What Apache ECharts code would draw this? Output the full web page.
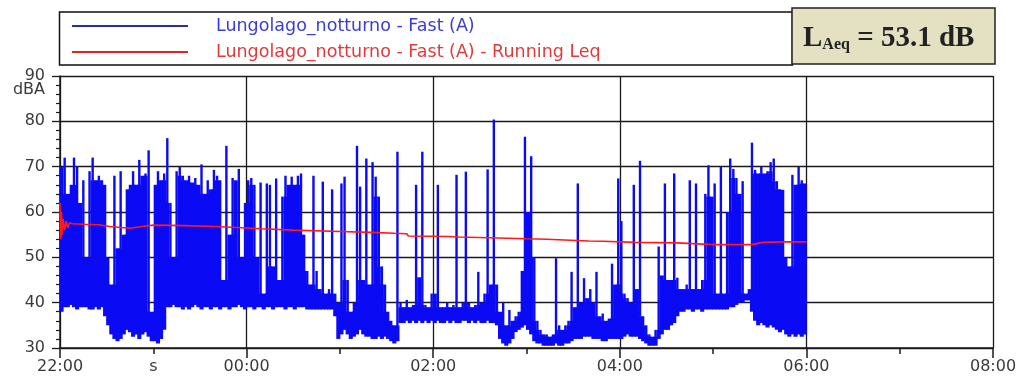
<!DOCTYPE html>
<html><head><meta charset="utf-8">
<script src="https://cdn.jsdelivr.net/npm/echarts@6/dist/echarts.min.js"></script>
<style>html,body{margin:0;padding:0;background:#fff}#c{width:1017px;height:383px}</style>
</head><body><div id="c"></div>
<script>
// time in minutes from 22:00; Fast (A) level summarised per 2-minute bin (min / max)
const binMinutes = 2;
const fastHigh = [
70,72,64,66,72,70,62,67,50,69,
72,67,68,67,66,50,44,68,52,69,
55,65,66,69,66,71.5,68,68.5,73.6,38,
66,69,67,68.5,76.3,62,50,69,70,68,
67,68,66.5,67.5,66,70.5,64,67,65,69.3,
68,67,45,74.6,55,67.5,67,69.5,50,62,
67,67.5,66,50,66.5,42,66.3,66,48,67.4,
45,63.4,68,66,67.8,66,68,68.5,55,47,
44,68,47,43,66.7,42,43,65,42,40,
66.3,67.8,45,38,40,74.6,65.6,45,71.8,44,
71,67.8,63.4,48,44,38,36,35,73.3,40,
39,40.6,39,39.5,66,45.6,73.3,39.5,39,42,
42,66,39,39,40,39,39.5,68.2,39,40,
68.9,40,39,39.5,46.8,40,42,69.4,44,80.4,
44,38,40,35,38.4,36,37,38,47,76.6,
60,72.3,50,36,34,33,33,32.5,33,49.8,
35,34,35,36,46.8,39,66.3,40,45.4,41,
43,40,46.8,37,37.6,36,36.5,48.6,44,67.4,
58,42,41,40,66,43,71.3,37,35,33,
32.5,34,52.4,46,66.3,45,45,68.5,45.5,43,
43,44,67,43,66.3,43,45,64,70.3,63.4,
66.3,42,70,42,60,71.8,69.5,67.5,64,66.8,
42,43,75.3,69.3,68.5,70,68.5,69,71,71.8,
66.8,65,64.9,50,48,68.2,66,70,67,66.3
];
const fastLow = [
38,39,39,39.5,39,38.5,39,39,39,38.5,
38.5,39,38.5,39,37,35,33,32,31.5,32,
33,34,33.5,32.5,33,32,33,33.5,32.5,31.5,
31.5,31,32,34,39,39,39.5,39,39,38.5,
39,38.5,39,39.5,39,38.5,39,39,38.5,39,
39,38.5,39,39,38.5,39,39,39.5,39,38.5,
39,39,38.5,39,39,38.5,39,39,38.5,39,
39,39,38.5,39,39,38.5,39,39,39,38.5,
38.5,38.5,38.5,38.5,38.5,38.5,38.5,38.5,37,32,
33,34,33,32,32.5,33,34,33,32.5,32.5,
32,32,32.5,32,32.5,32,31.5,31,31.5,35.5,
35.5,36,35.5,36,35.5,36,35.5,36,35.5,36,
35.5,36,35.5,35.5,36,35.5,36,35.5,35.5,36,
36,35.5,36,35.5,36,35.5,35.5,36,35.5,35.5,
35,32,31,30.5,31,32,33.5,34,34.5,35,
34,33,31.5,31,31,30.5,30.5,30.5,30.5,31,
30.5,30.5,31,31,31.5,32,32,32,32.5,32.5,
32.5,32,32,32,31.5,31.5,32,32,32,32,
32,32.5,33,32.5,32.5,32.5,32,31.5,31,30.5,
30.5,30.5,32,33,34,34,35,35.5,37,38,
38,38.5,38.5,38,38.5,38.5,38,38.5,38.5,38.5,
38.5,38.5,38.5,38.5,38.5,39,39,39.5,40,40,
40.5,40.5,38,36,35,35.5,35,34.5,35,34.5,
34,33.5,34,33,32.5,33,32.5,33,32.5,33
];
// Running Leq
const leqTime  = [0,0.5,1,1.5,2,3,4,5,6,8,15,25,32,45,55,60,80,100,130,150,180,200,215,223,224,250,257,258,300,313,314,340,349,350,370,397,398,420,445,452,465,480];
const leqValue = [62,54,60,55,58.5,56,58,56.5,57.6,57.4,57.3,57.2,56.8,56.4,56.9,57.1,57.0,56.8,56.3,56.0,55.7,55.5,55.3,55.2,54.7,54.6,54.5,54.2,54.1,54.0,53.7,53.6,53.55,53.3,53.3,53.2,52.9,52.8,52.8,53.3,53.4,53.4];
const xTickLabels = ['22:00','s','00:00','','02:00','','04:00','','06:00','','08:00'];
const seriesNames = ['Lungolago_notturno - Fast (A)', 'Lungolago_notturno - Fast (A) - Running Leq'];
const laeqValue = '53.1';

const fastData = fastHigh.map((h, i) => [i * binMinutes, fastLow[i], h, i]);
const leqData = leqTime.map((t, i) => [t, leqValue[i]]);

const chart = echarts.init(document.getElementById('c'), null, {renderer: 'canvas'});
const FONT = 'DejaVu Sans';
const BLUE = '#0a0af5';
chart.setOption({
  animation: false,
  backgroundColor: '#fff',
  grid: {left: 60, right: 24, top: 76, bottom: 35, outerBoundsMode: 'none'},
  xAxis: [{
    type: 'value', min: 0, max: 600, interval: 60,
    axisLine: {show: true, onZero: false, lineStyle: {color: '#1a1a1a', width: 1.5}},
    axisTick: {show: true, inside: false, length: 6, lineStyle: {color: '#1a1a1a', width: 1.5}},
    axisLabel: {show: true, margin: 11, fontFamily: FONT, fontSize: 16, color: '#3a3a3a',
      formatter: v => xTickLabels[Math.round(v / 60)] || '', showMinLabel: true, showMaxLabel: true},
    splitLine: {show: false}
  }, {
    type: 'value', min: 0, max: 600, interval: 120, position: 'bottom',
    axisLine: {show: false},
    axisTick: {show: true, inside: false, length: 10, lineStyle: {color: '#1a1a1a', width: 1.5}},
    axisLabel: {show: false},
    splitLine: {show: true, lineStyle: {color: '#1a1a1a', width: 1.3}}
  }],
  yAxis: {
    type: 'value', min: 30, max: 90, interval: 10,
    axisLine: {show: true, lineStyle: {color: '#1a1a1a', width: 1.5}},
    axisTick: {show: true, inside: false, length: 8, lineStyle: {color: '#1a1a1a', width: 1.3}},
    minorTick: {show: true, splitNumber: 5, length: 4, lineStyle: {color: '#1a1a1a', width: 1.2}},
    axisLabel: {margin: 15, fontFamily: FONT, fontSize: 16, color: '#3a3a3a'},
    splitLine: {show: true, lineStyle: {color: '#1a1a1a', width: 1.3}}
  },
  legend: {
    orient: 'vertical', left: 72, top: 17, padding: 0, itemGap: 8,
    itemWidth: 116, itemHeight: 2, icon: 'rect', z: 20,
    textStyle: {fontFamily: FONT, fontSize: 17.5, padding: [0, 0, 0, 23]},
    data: [
      {name: seriesNames[0], itemStyle: {color: '#2a2ab0'}, textStyle: {color: '#3b3bd6'}},
      {name: seriesNames[1], itemStyle: {color: '#e02424'}, textStyle: {color: '#e23a3a'}}
    ]
  },
  graphic: [
    {type: 'rect', z: 1, shape: {x: 59.5, y: 12, width: 733, height: 53},
      style: {fill: '#fff', stroke: '#111', lineWidth: 1.5}},
    {type: 'rect', z: 2, shape: {x: 792, y: 8, width: 203, height: 56},
      style: {fill: '#e3e1c1', stroke: '#222', lineWidth: 1.5}},
    {type: 'text', z: 3, x: 803, y: 39,
      style: {
        text: '{a|L}{b|Aeq}{a| = ' + laeqValue + ' dB}',
        verticalAlign: 'middle', align: 'left',
        rich: {
          a: {fontFamily: 'Liberation Serif', fontWeight: 'bold', fontSize: 29, fill: '#222'},
          b: {fontFamily: 'Liberation Serif', fontWeight: 'bold', fontSize: 16, fill: '#222', padding: [11, 0, 0, 0]}
        }
      }},
    {type: 'text', z: 3, x: 45, y: 90,
      style: {text: 'dBA', fontFamily: FONT, fontSize: 16, fill: '#3a3a3a', align: 'right', verticalAlign: 'middle'}}
  ],
  series: [{
    name: seriesNames[0], type: 'custom', xAxisIndex: 0, yAxisIndex: 0,
    itemStyle: {color: BLUE},
    encode: {x: 0, y: [1, 2]},
    data: fastData,
    z: 2,
    renderItem: function (params, api) {
      const t = api.value(0), lo = api.value(1), hi = api.value(2), i = api.value(3);
      const prevHi = i > 0 ? fastHigh[i - 1] : hi;
      const nextHi = i < fastHigh.length - 1 ? fastHigh[i + 1] : hi;
      const shared = Math.min(hi, Math.min(prevHi, nextHi));
      const pLo = api.coord([t, lo]);
      const pShared = api.coord([t + binMinutes, shared]);
      const pHi = api.coord([t + binMinutes / 2, hi]);
      const w = pShared[0] - pLo[0];
      const children = [{type: 'rect',
        shape: {x: pLo[0] - 0.5, y: pShared[1], width: w + 1, height: pLo[1] - pShared[1]},
        style: {fill: BLUE}}];
      if (hi > shared) {
        children.push({type: 'rect',
          shape: {x: pHi[0] - 1.2, y: pHi[1], width: 2.4, height: pShared[1] - pHi[1] + 0.5},
          style: {fill: BLUE}});
      }
      return {type: 'group', children: children};
    }
  }, {
    name: seriesNames[1], type: 'line', xAxisIndex: 0, yAxisIndex: 0,
    data: leqData, showSymbol: false, symbol: 'none', z: 5,
    lineStyle: {color: '#ff1a1a', width: 1.6},
    itemStyle: {color: '#e02424'}
  }]
});
</script>
</body></html>
